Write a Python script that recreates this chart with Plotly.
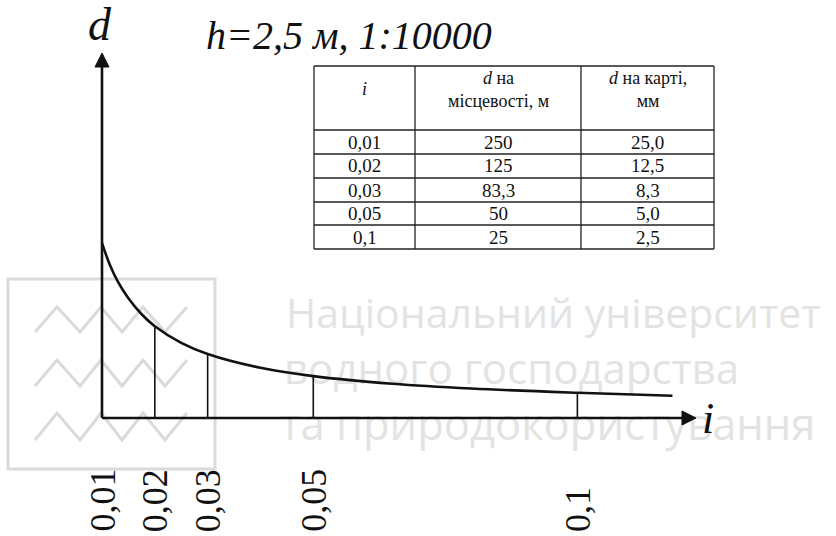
import plotly.graph_objects as go

# ---------------- data ----------------
i_vals = [0.01, 0.02, 0.03, 0.05, 0.1]
i_labels = ["0,01", "0,02", "0,03", "0,05", "0,1"]
d_ground = [250, 125, 83.3, 50, 25]          # d on the ground, m
d_ground_txt = ["250", "125", "83,3", "50", "25"]
d_map_txt = ["25,0", "12,5", "8,3", "5,0", "2,5"]

# curve d(i)
curve_i = [0.01, 0.0115, 0.013, 0.015, 0.0175, 0.02, 0.025, 0.03, 0.04, 0.05, 0.065, 0.08, 0.1, 0.118]
curve_d = [250, 217, 192, 167, 143, 125, 100, 83.3, 62.5, 50, 38.5, 31.3, 25, 20.5]

title_text = "<i>h=2,5 м, 1:10000</i>"
table_header = ["<i>i</i>", "<i>d</i> на<br>місцевості, м", "<i>d</i> на карті,<br>мм"]
watermark_lines = ["Національний університет", "водного господарства", "та природокористування"]

# ---------------- geometry ----------------
W, H = 836, 536
AXIS_PX_X = 102          # pixel of i = 0.01 (vertical axis)
PX_PER_I = 5282.0
AXIS_PX_Y = 418          # pixel of horizontal axis
PX_PER_D = 0.665
I0 = 0.01
D0 = -13.0

x_range = [I0 - AXIS_PX_X / PX_PER_I, I0 + (W - AXIS_PX_X) / PX_PER_I]
y_range = [D0 - (H - AXIS_PX_Y) / PX_PER_D, D0 + AXIS_PX_Y / PX_PER_D]


def px2x(p):
    return x_range[0] + p / W * (x_range[1] - x_range[0])


def px2y(q):
    return y_range[1] - q / H * (y_range[1] - y_range[0])


def pp(p):  # paper x
    return p / W


def pq(q):  # paper y
    return 1 - q / H


UPRIGHT = "Liberation Serif, DejaVu Serif Condensed, DejaVu Serif, serif"
SERIF = "Liberation Serif, DejaVu Serif, serif"
INK = "#111111"
fig = go.Figure()

# watermark text (first trace -> drawn beneath)
wm_y = [318, 373, 429]
wm_x = [286, 284, 280]
fig.add_trace(go.Scatter(
    x=[px2x(v) for v in wm_x], y=[px2y(v) for v in wm_y],
    mode="text", text=watermark_lines, textposition="middle right",
    textfont=dict(family="Open Sans", size=[41, 42, 43.5], color="#e3e3e3"),
    hoverinfo="skip", showlegend=False, cliponaxis=False))

# curve
fig.add_trace(go.Scatter(
    x=curve_i, y=curve_d, mode="lines",
    line=dict(color=INK, width=2.6, shape="spline", smoothing=1.0),
    hoverinfo="skip", showlegend=False))

# vertical ordinates
vx, vy = [], []
for iv, dv in zip(i_vals[1:], d_ground[1:]):
    vx += [iv, iv, None]
    vy += [D0, dv, None]
fig.add_trace(go.Scatter(x=vx, y=vy, mode="lines",
                         line=dict(color=INK, width=1.6),
                         hoverinfo="skip", showlegend=False))

shapes = []
annotations = []

# ---- table (grid + cell texts) ----
col_px = [314, 415, 581, 714]
row_px = [66, 130, 154, 178, 202, 225, 249]
TL = dict(color="#222222", width=1.3)
for c in col_px:
    shapes.append(dict(type="line", xref="paper", yref="paper",
                       x0=pp(c), x1=pp(c), y0=pq(row_px[0]), y1=pq(row_px[-1]), line=TL))
for r in row_px:
    shapes.append(dict(type="line", xref="paper", yref="paper",
                       x0=pp(col_px[0]), x1=pp(col_px[-1]), y0=pq(r), y1=pq(r), line=TL))
columns = [i_labels, d_ground_txt, d_map_txt]
for ci, head in enumerate(table_header):
    cx = (col_px[ci] + col_px[ci + 1]) / 2
    annotations.append(dict(text=head, xref="paper", yref="paper", x=pp(cx), y=pq(89),
                            xanchor="center", yanchor="middle", align="center",
                            showarrow=False, font=dict(family=UPRIGHT, size=18, color=INK)))
    for ri, val in enumerate(columns[ci]):
        cy = (row_px[ri + 1] + row_px[ri + 2]) / 2
        annotations.append(dict(text=val, xref="paper", yref="paper", x=pp(cx), y=pq(cy),
                                xanchor="center", yanchor="middle",
                                showarrow=False, font=dict(family=UPRIGHT, size=19, color=INK)))

GRAY = "#dadada"
# logo frame
shapes.append(dict(type="rect", xref="paper", yref="paper",
                   x0=pp(8), x1=pp(215), y0=pq(469), y1=pq(279),
                   line=dict(color=GRAY, width=3), layer="below"))
# logo zigzags
zx = [35, 57, 80, 101, 122, 143, 165, 187]
for hi, lo in [(307, 332), (360, 386), (413, 440)]:
    path = ""
    for k, xx in enumerate(zx):
        yy = lo if k % 2 == 0 else hi
        path += ("M" if k == 0 else "L") + f"{pp(xx)},{pq(yy)}"
    shapes.append(dict(type="path", xref="paper", yref="paper", path=path,
                       line=dict(color=GRAY, width=3), layer="below"))

# axes
shapes.append(dict(type="line", xref="x", yref="y", x0=I0, y0=D0, x1=px2x(683), y1=D0,
                   line=dict(color=INK, width=2.6)))
shapes.append(dict(type="line", xref="x", yref="y", x0=I0, y0=D0, x1=I0, y1=px2y(66),
                   line=dict(color=INK, width=2.6)))
# arrowheads
ax = AXIS_PX_X
shapes.append(dict(type="path", xref="paper", yref="paper",
                   path=f"M{pp(ax)},{pq(53)}L{pp(ax-7)},{pq(67)}L{pp(ax+7)},{pq(67)}Z",
                   fillcolor=INK, line=dict(color=INK, width=1)))
shapes.append(dict(type="path", xref="paper", yref="paper",
                   path=f"M{pp(696)},{pq(AXIS_PX_Y)}L{pp(682)},{pq(AXIS_PX_Y-7)}L{pp(682)},{pq(AXIS_PX_Y+7)}Z",
                   fillcolor=INK, line=dict(color=INK, width=1)))

annotations.append(dict(text="<i>d</i>", xref="paper", yref="paper", x=pp(100), y=pq(24),
                        xanchor="center", yanchor="middle",
                        showarrow=False, font=dict(family=SERIF, size=46, color=INK)))
annotations.append(dict(text="<i>i</i>", xref="paper", yref="paper", x=pp(708), y=pq(418),
                        xanchor="center", yanchor="middle",
                        showarrow=False, font=dict(family=SERIF, size=44, color=INK)))
annotations.append(dict(text=title_text, xref="paper", yref="paper", x=pp(349), y=pq(36),
                        xanchor="center", yanchor="middle",
                        showarrow=False, font=dict(family=SERIF, size=40, color=INK)))
for iv, lab in zip(i_vals, i_labels):
    annotations.append(dict(text=lab, xref="x", yref="paper", x=iv, y=pq(534),
                            xanchor="center", yanchor="bottom", textangle=-90,
                            showarrow=False, font=dict(family=UPRIGHT, size=36, color=INK)))

fig.update_layout(
    width=W, height=H, autosize=False,
    margin=dict(l=0, r=0, t=0, b=0, pad=0),
    paper_bgcolor="white", plot_bgcolor="white",
    xaxis=dict(range=x_range, visible=False, fixedrange=True),
    yaxis=dict(range=y_range, visible=False, fixedrange=True),
    shapes=shapes, annotations=annotations, showlegend=False,
)

fig.write_html("out.html", config={"displayModeBar": False},
               post_script="document.body.style.margin='0';document.body.style.padding='0';")
